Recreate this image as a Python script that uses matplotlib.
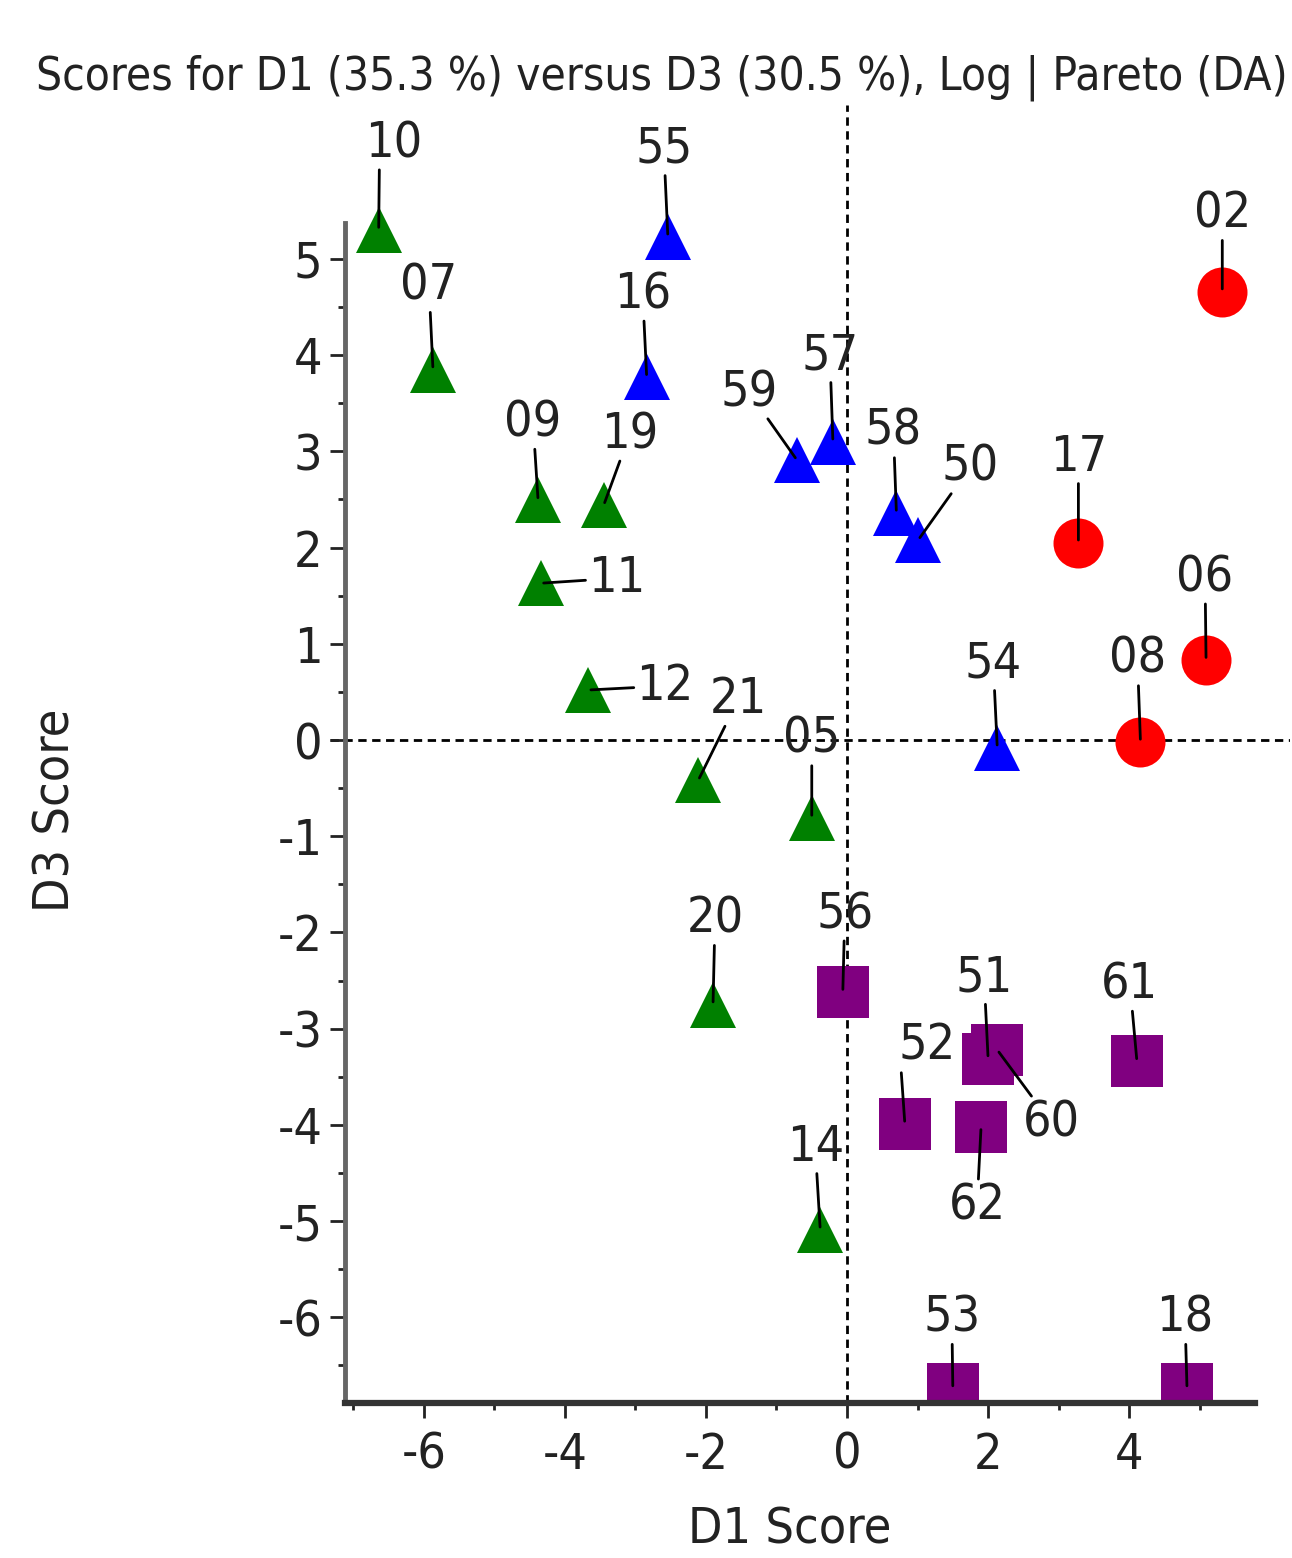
import matplotlib
matplotlib.use("Agg")
import matplotlib.pyplot as plt
from matplotlib.ticker import FixedLocator

plt.rcParams['font.family'] = ['DejaVu Sans']
plt.rcParams['font.stretch'] = 'condensed'
plt.rcParams['axes.unicode_minus'] = False

# sample scores, grouped by class
green_ids = ['10', '07', '09', '19', '11', '12', '21', '05', '20', '14']
green_d1 = [-6.64, -5.87, -4.38, -3.45, -4.34, -3.67, -2.11, -0.50, -1.90, -0.38]
green_d3 = [5.30, 3.85, 2.49, 2.44, 1.63, 0.52, -0.42, -0.81, -2.75, -5.09]

blue_ids = ['55', '16', '59', '57', '58', '50', '54']
blue_d1 = [-2.54, -2.84, -0.71, -0.20, 0.70, 1.01, 2.13]
blue_d3 = [5.23, 3.77, 2.91, 3.10, 2.36, 2.08, -0.08]

red_ids = ['02', '17', '06', '08']
red_d1 = [5.32, 3.28, 5.09, 4.16]
red_d3 = [4.66, 2.05, 0.83, -0.02]

purple_ids = ['56', '51', '60', '52', '62', '61', '53', '18']
purple_d1 = [-0.06, 2.00, 2.13, 0.82, 1.90, 4.11, 1.50, 4.82]
purple_d3 = [-2.62, -3.31, -3.22, -3.99, -4.02, -3.34, -6.74, -6.74]

# label placement (pixel offset of label from point, optional line anchor on label)
offsets = {
    '10': (15, 87, (0.25, 0)), '07': (-4, 84), '55': (-4, 88), '16': (-4, 83),
    '09': (-5, 78), '19': (26, 71), '11': (76, 5), '12': (77, 4),
    '21': (40, 81), '05': (0, 79), '20': (2, 86), '14': (-5, 83),
    '59': (-48, 68), '57': (-3, 86), '58': (-3, 82), '50': (52, 73),
    '54': (-4, 84), '02': (0, 78), '17': (0, 86), '06': (-1, 83),
    '08': (-3, 83), '56': (2, 78), '51': (-4, 81), '60': (54, -73),
    '52': (22, 78, (0.05, 0)), '62': (-4, -79), '61': (-7, 77),
    '53': (-1, 71), '18': (-2, 71),
}

FS = 36
W, H = 1292, 1558
fig = plt.figure(figsize=(W / 100, H / 100), dpi=100)
ax = fig.add_axes([330 / W, 1 - 1403 / H, (1290 - 330) / W, (1403 - 105) / H])

ax.set_xlim(-7.33, 6.28)
ax.set_ylim(-6.89, 6.6)

ax.axhline(0, color='black', lw=2, ls=(0, (3, 2)), zorder=0)
ax.axvline(0, color='black', lw=2, ls=(0, (3, 2)), zorder=0)

groups = [
    (green_ids, green_d1, green_d3, '^', '#008000', 33),
    (blue_ids, blue_d1, blue_d3, '^', '#0000ff', 33),
    (red_ids, red_d1, red_d3, 'o', '#ff0000', 36),
    (purple_ids, purple_d1, purple_d3, 's', '#800080', 38),
]
for ids, xs, ys, mk, col, ms in groups:
    ax.plot(xs, ys, ls='none', marker=mk, color=col, ms=ms, mew=0, zorder=2)
    for lab, x, y in zip(ids, xs, ys):
        o = offsets[lab]
        relpos = o[2] if len(o) > 2 else (0.5, 0.5)
        ax.annotate(lab, xy=(x, y), xytext=(o[0], o[1]), textcoords='offset pixels',
                    ha='center', va='center', fontsize=FS, color='#222222',
                    arrowprops=dict(arrowstyle='-', color='black', lw=2,
                                    shrinkA=0, shrinkB=2, relpos=relpos),
                    zorder=3)

for s in ['top', 'right']:
    ax.spines[s].set_visible(False)
ax.spines['bottom'].set_linewidth(4.5)
ax.spines['left'].set_linewidth(3.5)
ax.spines['bottom'].set_color('#333333')
ax.spines['left'].set_color('#666666')
ax.spines['bottom'].set_bounds(-7.12, 5.79)
ax.spines['left'].set_bounds(-6.89, 5.37)
ax.spines['left'].set_position(('data', -7.12))

ax.set_xticks(range(-6, 5, 2))
ax.set_yticks(range(-6, 6))
ax.xaxis.set_minor_locator(FixedLocator(range(-7, 6, 2)))
ax.yaxis.set_minor_locator(FixedLocator([v + 0.5 for v in range(-7, 5)]))
ax.tick_params(which='major', length=11, width=2, labelsize=FS, colors='#222222')
ax.tick_params(axis='x', which='major', pad=9)
ax.tick_params(axis='y', which='major', pad=5)
ax.tick_params(which='minor', length=5, width=2, colors='#222222')

fig.text(662 / W, 1 - 78 / H, 'Scores for D1 (35.3 %) versus D3 (30.5 %), Log | Pareto (DA)',
         ha='center', va='center', fontsize=33, color='#222222')
fig.text(790 / W, 1 - 1530 / H, 'D1 Score', ha='center', va='center', fontsize=FS, color='#222222')
fig.text(55 / W, 1 - 810 / H, 'D3 Score', ha='center', va='center', rotation=90,
         fontsize=FS, color='#222222')

fig.savefig('out.png', dpi=100)
